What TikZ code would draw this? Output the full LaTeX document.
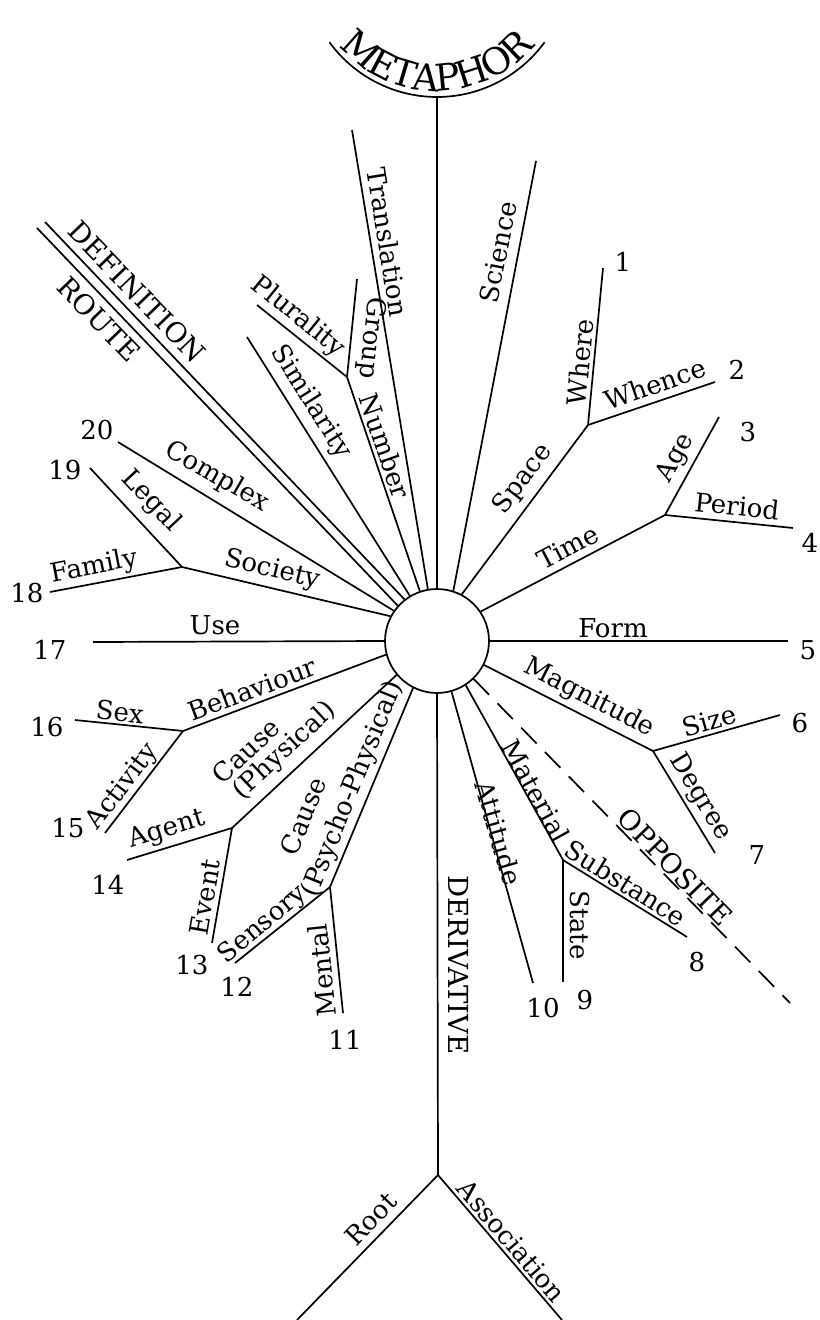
\documentclass[tikz,border=0pt]{standalone}
\usepackage{fontspec}
\setmainfont{DejaVu Serif}
\usetikzlibrary{decorations.text}
\newcommand{\lblfont}{\fontsize{13}{14.5}\selectfont}
\newcommand{\capsfont}{\fontsize{13.8}{15}\selectfont}
\newcommand{\mtfont}{\fontsize{18.5}{20}\selectfont}
\begin{document}
\begin{tikzpicture}[x=0.5pt,y=0.5pt,
  ln/.style={line width=0.85pt},
  lbl/.style={inner sep=0pt,font=\lblfont},
  capl/.style={inner sep=0pt,font=\capsfont},
  num/.style={inner sep=0pt,font=\lblfont}]
\useasboundingbox (0,0) rectangle (819,-1320);
% hub
\node[circle,draw,fill=white,line width=0.85pt,minimum size=52pt,inner sep=0pt] (hub) at (437,-641) {};
% coordinates
\coordinate (arcC) at (437,36);
\coordinate (metaB) at (437,-97);
\coordinate (defA) at (45,-222);
\coordinate (rtA) at (37,-228);
\coordinate (simA) at (247,-337);
\coordinate (grpJ) at (347,-377);
\coordinate (plA) at (257,-305);
\coordinate (grA) at (357,-279);
\coordinate (trA) at (352,-130);
\coordinate (scA) at (536,-161);
\coordinate (spJ) at (588,-425);
\coordinate (whA) at (603,-268);
\coordinate (wcA) at (715,-382);
\coordinate (tmJ) at (665,-515);
\coordinate (agA) at (719,-417);
\coordinate (peA) at (793,-528);
\coordinate (foA) at (788,-641);
\coordinate (mgJ) at (653,-751);
\coordinate (szA) at (780,-715);
\coordinate (dgA) at (715,-853);
\coordinate (opA) at (790,-1003);
\coordinate (maJ) at (563,-860);
\coordinate (suA) at (687,-937);
\coordinate (stA) at (563,-982);
\coordinate (atA) at (533,-983);
\coordinate (deJ) at (438,-1175);
\coordinate (roA) at (297,-1320);
\coordinate (asA) at (562,-1320);
\coordinate (psJ) at (330,-887);
\coordinate (seA) at (235,-963);
\coordinate (meA) at (343,-1013);
\coordinate (phJ) at (232,-828);
\coordinate (agtA) at (127,-860);
\coordinate (evA) at (212,-943);
\coordinate (beJ) at (183,-731);
\coordinate (sxA) at (75,-720);
\coordinate (acA) at (105,-833);
\coordinate (usA) at (93,-642);
\coordinate (soJ) at (182,-567);
\coordinate (faA) at (50,-592);
\coordinate (lgA) at (90,-468);
\coordinate (cxA) at (118,-442);
% METAPHOR arc and text
\draw[ln] ([shift={(216:66.5pt)}]arcC) arc[start angle=216,end angle=324,radius=66.5pt];
\path[decorate,decoration={text along path,text={|\mtfont|METAPHOR},text align=center,raise=3pt}]
  ([shift={(200:66.5pt)}]arcC) arc[start angle=200,end angle=340,radius=66.5pt];
% rays
\draw[ln] (metaB) -- (hub.90);
\draw[ln] (defA) -- (hub.128);
\draw[ln] (rtA) -- (hub.138);
\draw[ln] (simA) -- (hub.121);
\draw[ln] (grpJ) -- (hub.109);
\draw[ln] (plA) -- (grpJ);
\draw[ln] (grA) -- (grpJ);
\draw[ln] (trA) -- (hub.100);
\draw[ln] (scA) -- (hub.72);
\draw[ln] (spJ) -- (hub.62);
\draw[ln] (whA) -- (spJ);
\draw[ln] (wcA) -- (spJ);
\draw[ln] (tmJ) -- (hub.34);
\draw[ln] (agA) -- (tmJ);
\draw[ln] (peA) -- (tmJ);
\draw[ln] (foA) -- (hub.0);
\draw[ln] (mgJ) -- (hub.-27);
\draw[ln] (szA) -- (mgJ);
\draw[ln] (dgA) -- (mgJ);
\draw[ln,dash pattern=on 11pt off 6pt] (hub.-46) -- (opA);
\draw[ln] (maJ) -- (hub.-57);
\draw[ln] (suA) -- (maJ);
\draw[ln] (stA) -- (maJ);
\draw[ln] (atA) -- (hub.-74);
\draw[ln] (deJ) -- (hub.-90);
\draw[ln] (roA) -- (deJ);
\draw[ln] (asA) -- (deJ);
\draw[ln] (psJ) -- (hub.-117);
\draw[ln] (seA) -- (psJ);
\draw[ln] (meA) -- (psJ);
\draw[ln] (phJ) -- (hub.220);
\draw[ln] (agtA) -- (phJ);
\draw[ln] (evA) -- (phJ);
\draw[ln] (beJ) -- (hub.195);
\draw[ln] (sxA) -- (beJ);
\draw[ln] (acA) -- (beJ);
\draw[ln] (usA) -- (hub.180);
\draw[ln] (soJ) -- (hub.152);
\draw[ln] (faA) -- (soJ);
\draw[ln] (lgA) -- (soJ);
\draw[ln] (cxA) -- (hub.145);
% labels
\node[capl,rotate=-46] (tDef) at (137,-292) {DEFINITION};
\node[capl,rotate=-46] (tRoute) at (99,-319) {ROUTE};
\node[lbl,rotate=-39] (tPlur) at (298,-317) {Plurality};
\node[lbl,rotate=-96] (tGroup) at (371,-338) {Group};
\node[lbl,rotate=-58] (tSim) at (311,-402) {Similarity};
\node[lbl,rotate=-71] (tNum) at (385,-446) {Number};
\node[lbl,rotate=-81] (tTrans) at (388,-242) {Translation};
\node[lbl,rotate=79] (tSci) at (498,-252) {Science};
\node[lbl,rotate=84.5] (tWhere) at (580,-362) {Where};
\node[lbl,rotate=19] (tWhence) at (655,-384) {Whence};
\node[lbl,rotate=53] (tSpace) at (523,-479) {Space};
\node[lbl,rotate=61] (tAge) at (676,-458) {Age};
\node[lbl,rotate=-6] (tPeriod) at (737,-506) {Period};
\node[lbl,rotate=27.5] (tTime) at (568,-547) {Time};
\node[lbl] (tForm) at (613,-628) {Form};
\node[lbl,rotate=-27] (tMag) at (589,-698) {Magnitude};
\node[lbl,rotate=16] (tSize) at (709,-721) {Size};
\node[lbl,rotate=-59] (tDeg) at (700,-797) {Degree};
\node[capl,rotate=-46] (tOpp) at (675,-867) {OPPOSITE};
\node[lbl,rotate=-61] (tMat) at (536,-791) {Material};
\node[lbl,rotate=-32] (tSub) at (626,-883) {Substance};
\node[lbl,rotate=-90] (tState) at (580,-925) {State};
\node[lbl,rotate=-74] (tAtt) at (499,-833) {Attitude};
\node[capl,rotate=-90] (tDer) at (459,-965) {DERIVATIVE};
\node[lbl,rotate=46] (tRoot) at (371,-1219) {Root};
\node[lbl,rotate=-49.5] (tAssoc) at (512,-1241) {Association};
\node[lbl,rotate=-30] (tCompl) at (217,-477) {Complex};
\node[lbl,rotate=-47] (tLegal) at (151,-501) {Legal};
\node[lbl,rotate=11] (tFam) at (94,-567) {Family};
\node[lbl,rotate=-13.5] (tSoc) at (272,-570) {Society};
\node[lbl] (tUse) at (215,-625) {Use};
\node[lbl,rotate=20.5] (tBeh) at (252,-689) {Behaviour};
\node[lbl,rotate=-6] (tSex) at (120,-712) {Sex};
\node[lbl,rotate=52.6] (tAct) at (123,-787) {Activity};
\node[lbl,rotate=43] (tCauseA) at (246,-751) {Cause};
\node[lbl,rotate=43] (tPhys) at (285,-751) {(Physical)};
\node[lbl,rotate=17] (tAgent) at (167,-830) {Agent};
\node[lbl,rotate=80] (tEvent) at (205,-897) {Event};
\node[lbl,rotate=68] (tCauseB) at (303,-816) {Cause};
\node[lbl,rotate=68] (tPsy) at (353,-789) {(Psycho-Physical)};
\node[lbl,rotate=40] (tSens) at (263,-925) {Sensory};
\node[lbl,rotate=96] (tMent) at (322,-970) {Mental};
% numbers
\node[num] (n1) at (623,-262) {1};
\node[num] (n2) at (737,-370) {2};
\node[num] (n3) at (748,-432) {3};
\node[num] (n4) at (810,-543) {4};
\node[num] (n5) at (808,-650) {5};
\node[num] (n6) at (800,-723) {6};
\node[num] (n7) at (757,-855) {7};
\node[num] (n8) at (697,-962) {8};
\node[num] (n9) at (585,-1000) {9};
\node[num] (n10) at (543,-1008) {10};
\node[num] (n11) at (345,-1040) {11};
\node[num] (n12) at (237,-987) {12};
\node[num] (n13) at (192,-965) {13};
\node[num] (n14) at (108,-885) {14};
\node[num] (n15) at (68,-828) {15};
\node[num] (n16) at (47,-727) {16};
\node[num] (n17) at (50,-650) {17};
\node[num] (n18) at (27,-593) {18};
\node[num] (n19) at (65,-470) {19};
\node[num] (n20) at (97,-430) {20};
\end{tikzpicture}
\end{document}
